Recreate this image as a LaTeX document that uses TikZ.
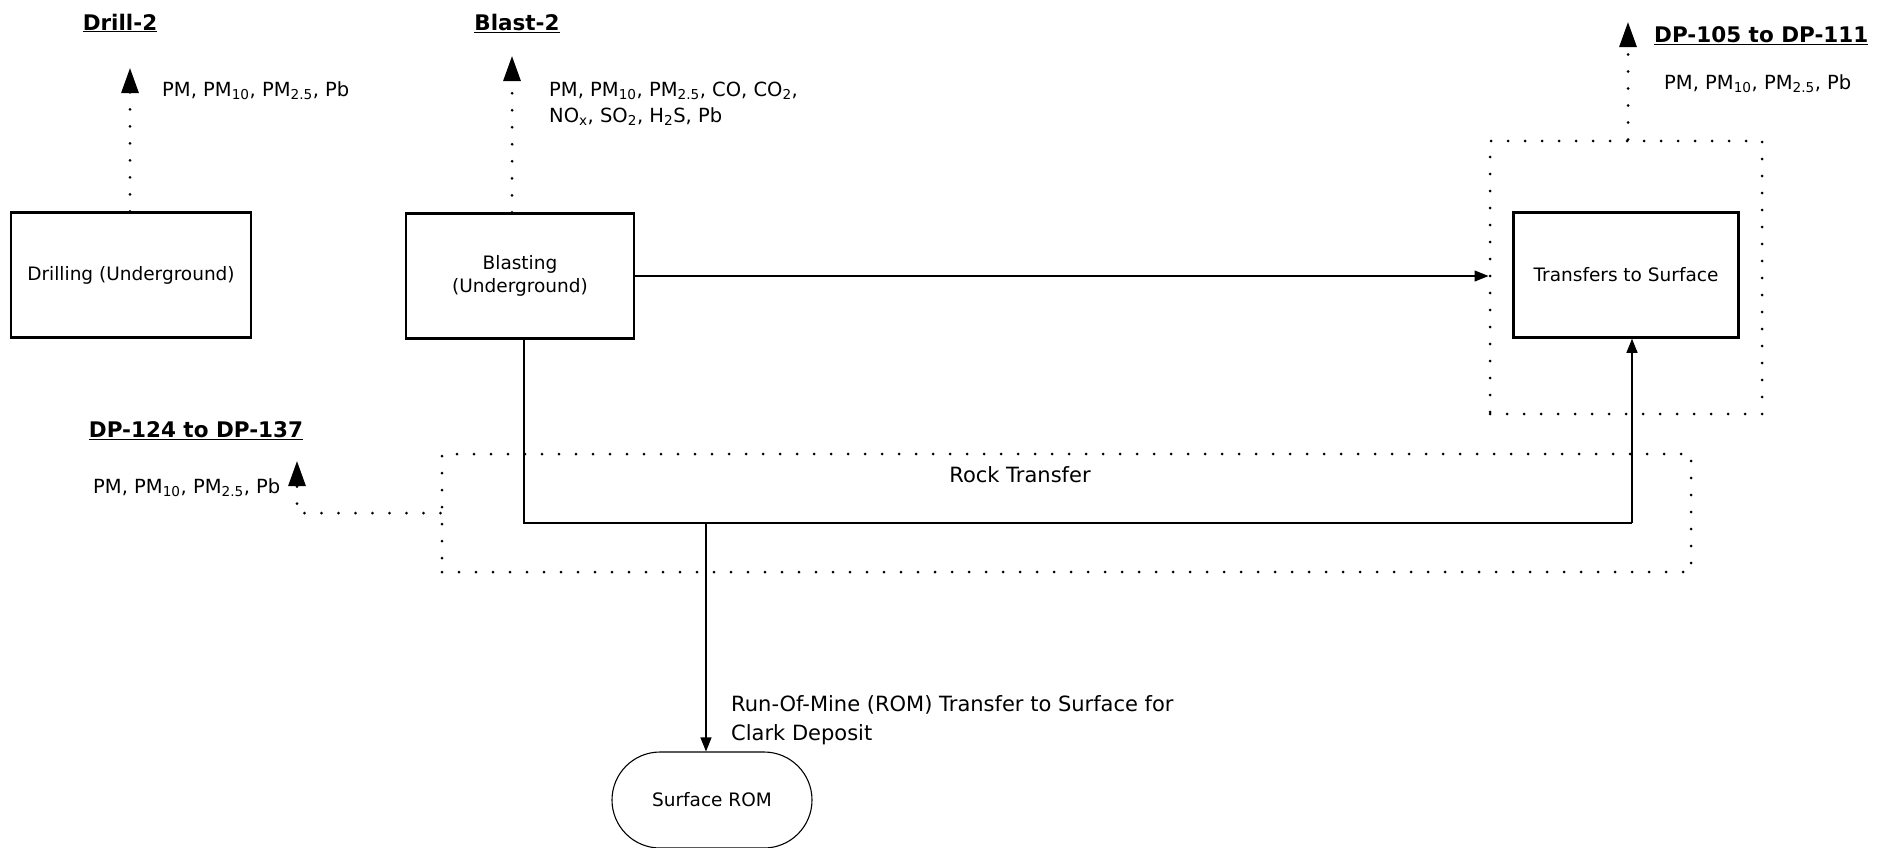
\documentclass[tikz,border=0pt]{standalone}
\usepackage{fontspec}
\setmainfont{DejaVu Sans}
\usetikzlibrary{arrows.meta,positioning}

\begin{document}
\begin{tikzpicture}[x=1pt,y=-1pt,
  proc/.style={draw,line width=2.5pt,minimum width=228pt,minimum height=125pt,
    align=center,font=\fontsize{18.5}{23}\selectfont},
  grp/.style={draw,line width=3pt,line cap=round,dash pattern=on 0pt off 17pt},
  dots/.style={line width=3pt,line cap=round,dash pattern=on 0pt off 17pt,
    -{Triangle[length=25pt,width=17pt]}},
  flow/.style={line width=1.1pt,-{Triangle[length=14pt,width=11pt]}},
  emis/.style={inner sep=0pt,anchor=west,align=left,font=\fontsize{19.5}{26}\selectfont},
  ttl/.style={inner sep=0pt,font=\fontsize{21.5}{26}\selectfont\bfseries}]
  \useasboundingbox (0,0) rectangle (1877,847);

  % process boxes
  \node[proc,minimum width=240pt] (drill) at (131,275) {Drilling (Underground)};
  \node[proc] (blast) at (520,276) {Blasting\\(Underground)};
  \node[proc,minimum width=225pt] (surf) at (1626,275) {Transfers to Surface};
  \node[draw,line width=1.1pt,rounded corners=48pt,minimum width=200pt,minimum height=96pt,
    font=\fontsize{18.5}{23}\selectfont] (rom) at (712,800) {Surface ROM};

  % dotted groups
  \node[grp,minimum width=272pt,minimum height=273pt] (surfgrp) at (1626,277.5) {};
  \node[grp,minimum width=1249pt,minimum height=118pt] (rock) at (1066.5,513) {};
  \node[inner sep=0pt,font=\fontsize{21}{25}\selectfont] (rocklbl) at (1020,475) {Rock Transfer};

  % emission points
  \coordinate (drilltip) at (130,68);
  \coordinate (blasttip) at (512,56);
  \coordinate (surftip) at (1628,22);
  \coordinate (lefttip) at (297,461);
  \node[ttl] (drillttl) at (120,23) {\underline{Drill-2}};
  \node[ttl] (blastttl) at (517,23) {\underline{Blast-2}};
  \node[ttl,anchor=west] (surfttl) at (1654,36) {\underline{DP-105 to DP-111}};
  \node[ttl] (leftttl) at (196,431) {\underline{DP-124 to DP-137}};
  \node[emis] (drillem) at (162,91) {PM, PM\textsubscript{10}, PM\textsubscript{2.5}, Pb};
  \node[emis] (blastem) at (549,104) {PM, PM\textsubscript{10}, PM\textsubscript{2.5}, CO, CO\textsubscript{2},\\
    NO\textsubscript{x}, SO\textsubscript{2}, H\textsubscript{2}S, Pb};
  \node[emis] (surfem) at (1664,84) {PM, PM\textsubscript{10}, PM\textsubscript{2.5}, Pb};
  \node[emis] (leftem) at (93,488) {PM, PM\textsubscript{10}, PM\textsubscript{2.5}, Pb};
  \node[emis,font=\fontsize{21}{29}\selectfont] (romlbl) at (731,720)
    {Run-Of-Mine (ROM) Transfer to Surface for\\Clark Deposit};

  \draw[dots] (drilltip |- drill.north) -- (drilltip);
  \draw[dots] (blasttip |- blast.north) -- (blasttip);
  \draw[dots] (surftip |- surfgrp.north) -- (surftip);
  \draw[dots] (rock.west) -| (lefttip);

  % rock flow
  \coordinate (j1) at (524,523);
  \coordinate (j2) at (706,523);
  \coordinate (j3) at (1632,523);
  \draw[flow] (blast.east) -- (blast.east -| surfgrp.west);
  \draw[flow,-] (j1 |- blast.south) -- (j1) -- (j3);
  \draw[flow] (j3) -- (j3 |- surf.south);
  \draw[flow] (j2) -- (j2 |- rom.north);
\end{tikzpicture}
\end{document}
